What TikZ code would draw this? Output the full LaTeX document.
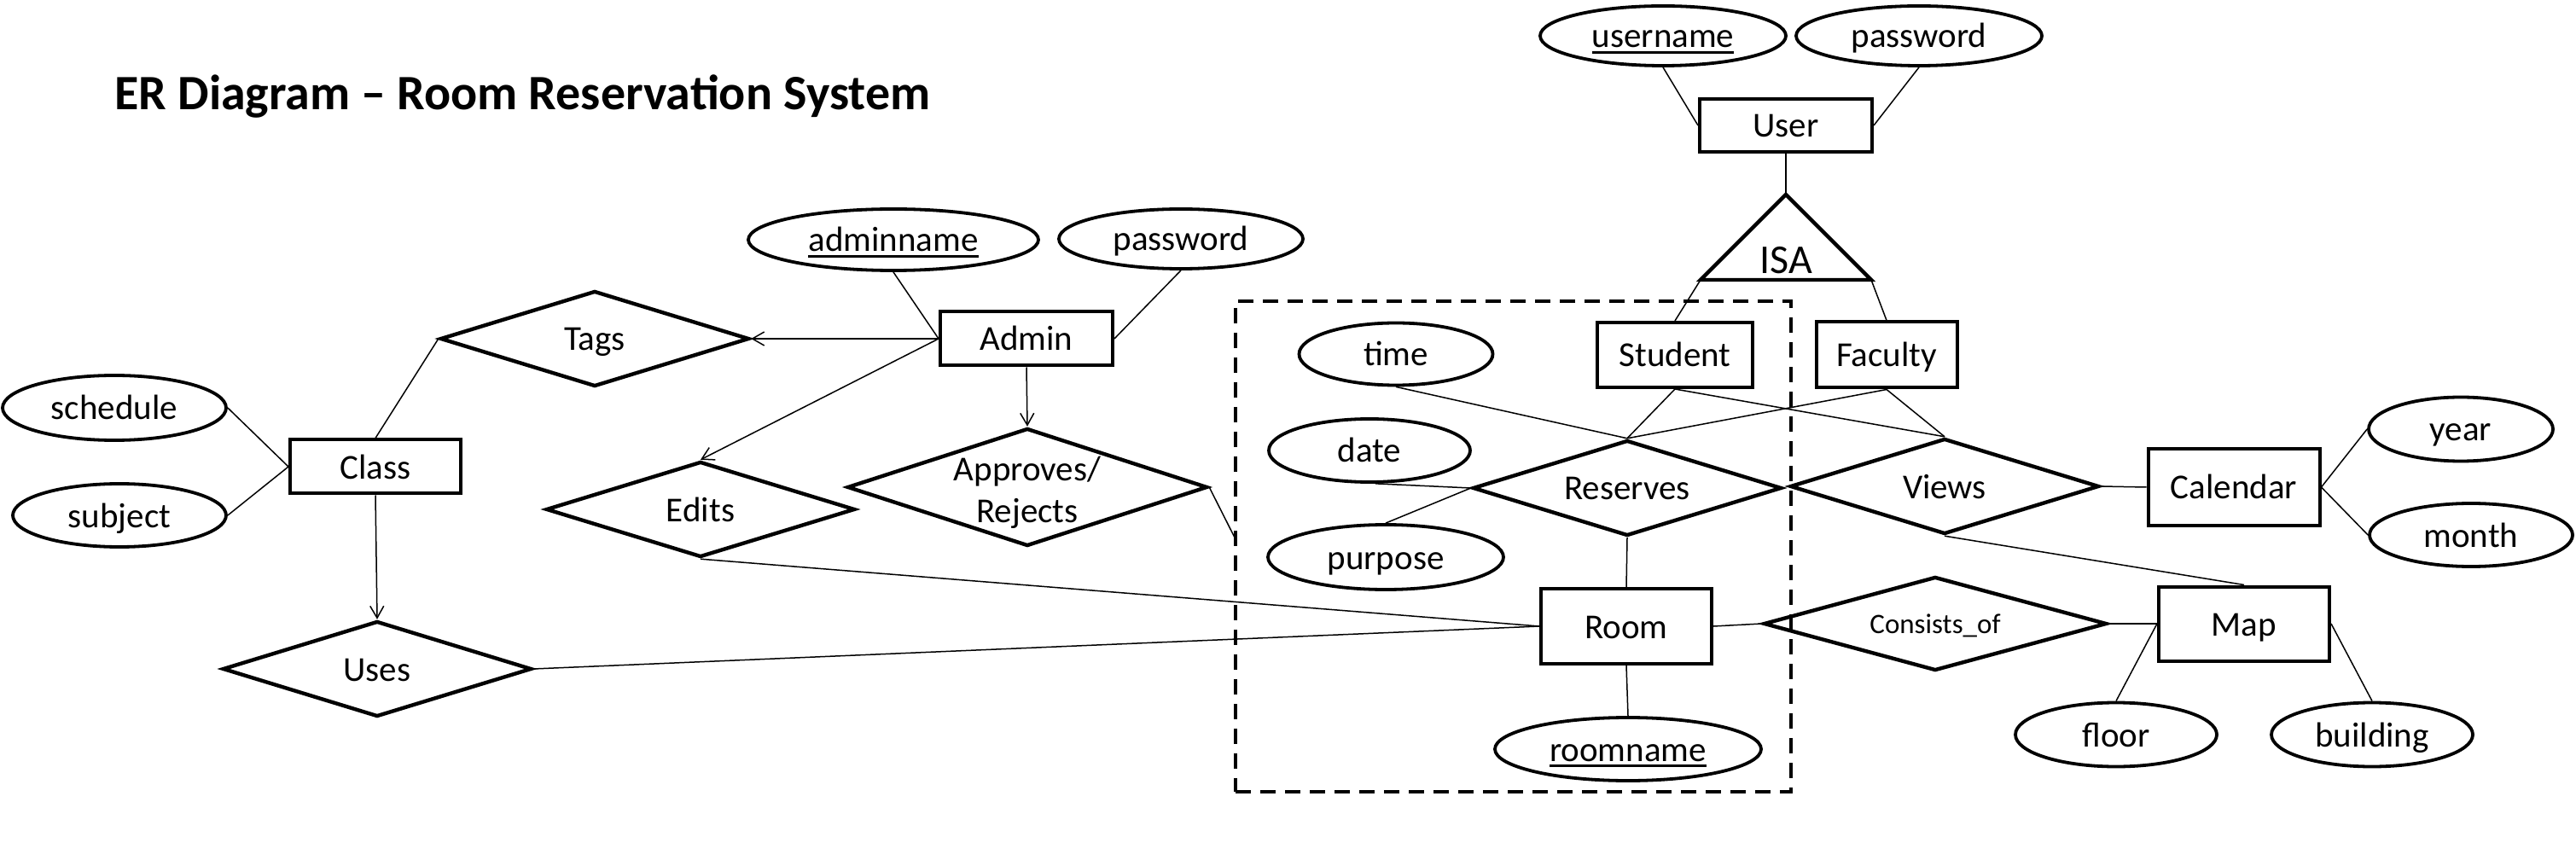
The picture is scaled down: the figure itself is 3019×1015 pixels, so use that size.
\documentclass[tikz,border=0pt]{standalone}
\usepackage{fontspec}
\setmainfont{Carlito}
\usetikzlibrary{shapes.geometric,arrows.meta}
\newsavebox\kbox
\newcommand\keyattr[1]{\sbox\kbox{#1}\rlap{\rule[-3.5pt]{\wd\kbox}{1.5pt}}\usebox\kbox}
\begin{document}
\begin{tikzpicture}[x=0.5pt,y=-0.5pt,
  lblfont/.style={font=\fontsize{20.5pt}{24.5pt}\selectfont},
  lbl/.style={lblfont, text height=14pt, text depth=0pt},
  ent/.style={draw, line width=2pt, rectangle, inner sep=0pt, lbl},
  att/.style={draw, line width=1.9pt, ellipse, inner sep=0pt, lbl},
  rel/.style={draw, line width=2.2pt, diamond, inner sep=0pt, minimum width=181pt, minimum height=56pt},
  con/.style={line width=0.75pt},
  arr/.style={con, -{Straight Barb[length=7pt,width=8pt]}},
  aggbox/.style={draw, line width=1.8pt, dash pattern=on 9pt off 5.5pt, inner sep=0pt}
]
\fill[white] (0,0) rectangle (3019,1015);
\useasboundingbox (0,0) rectangle (3019,1015);

\node[anchor=base west, inner sep=0pt, font=\fontsize{29pt}{34pt}\selectfont\bfseries] (title) at (134,129) {ER Diagram \textendash{} Room Reservation System};

% left part
\node[ent, minimum width=100pt, minimum height=31.5pt] (class) at (440,547) {Class};
\node[att, minimum width=131pt, minimum height=38pt] (schedule) at (134,478) {schedule};
\node[att, minimum width=125pt, minimum height=37pt] (subject) at (140,604) {subject};
\node[rel, label={[lbl]center:Tags}] (tags) at (697,397) {};
\node[rel, label={[lbl]center:Edits}] (edits) at (821,597) {};
\node[rel, label={[lbl]center:Uses}] (uses) at (442,784) {};

% admin
\node[ent, minimum width=101pt, minimum height=31.5pt] (admin) at (1203,397) {Admin};
\node[att, minimum width=170pt, minimum height=36pt] (adminname) at (1047,281) {\keyattr{adminname}};
\node[att, minimum width=143pt, minimum height=35pt] (apass) at (1384,280) {password};
\node[rel, minimum width=211pt, minimum height=69pt, label={[lblfont, align=center, yshift=-3pt]center:{Approves/\\Rejects}}] (approves) at (1204,571) {};

% aggregation box
\node[aggbox, minimum width=325.5pt, minimum height=287.5pt] (agg) at (1773.5,640.5) {};
\coordinate (aggpt) at (1448,632);

\node[att, minimum width=113.5pt, minimum height=36.5pt] (time) at (1636,415) {time};
\node[att, minimum width=118pt, minimum height=37pt] (date) at (1605,528) {date};
\node[att, minimum width=138pt, minimum height=38pt] (purpose) at (1624,653) {purpose};
\node[rel, label={[lbl]center:Reserves}] (reserves) at (1907,572) {};
\node[ent, minimum width=100pt, minimum height=44pt] (room) at (1906,734) {Room};
\node[att, minimum width=156pt, minimum height=37pt] (roomname) at (1908,878) {\keyattr{roomname}};
\node[ent, minimum width=91pt, minimum height=38pt] (student) at (1963,416) {Student};
\node[ent, minimum width=82.5pt, minimum height=38.5pt] (faculty) at (2211,416) {Faculty};

% user
\node[ent, minimum width=101pt, minimum height=31pt] (user) at (2093,147) {User};
\node[att, minimum width=144pt, minimum height=35pt] (username) at (1949,42) {\keyattr{username}};
\node[att, minimum width=144pt, minimum height=35pt] (upass) at (2249,42) {password};
\coordinate (isatop) at (2093,228);
\coordinate (isal) at (1993,328);
\coordinate (isar) at (2193,328);
\draw[line width=2.2pt] (isatop) -- (isal) -- (isar) -- cycle;
\node[anchor=base, inner sep=0pt, font=\fontsize{24pt}{28pt}\selectfont] (isa) at (2093,321) {ISA};

% right part
\node[rel, label={[lbl]center:Views}] (views) at (2279,570) {};
\node[ent, minimum width=100.5pt, minimum height=44.5pt] (calendar) at (2618,571) {Calendar};
\node[att, minimum width=108pt, minimum height=37.5pt] (year) at (2884,503) {year};
\node[att, minimum width=119pt, minimum height=37pt] (month) at (2896,627) {month};
\node[rel, minimum width=201pt, minimum height=55pt, label={[font=\fontsize{16.5pt}{20pt}\selectfont, text height=11.2pt, text depth=0pt]center:Consists\_of}] (consists) at (2268,731) {};
\node[ent, minimum width=100pt, minimum height=43.5pt] (map) at (2630,731) {Map};
\node[att, minimum width=118pt, minimum height=37.5pt] (floor) at (2480,861) {floor};
\node[att, minimum width=118pt, minimum height=37.5pt] (building) at (2780,861) {building};

% connectors
\draw[con] (schedule.east) -- (class.west);
\draw[con] (subject.east) -- (class.west);
\draw[con] (class.north) -- (tags.west);
\draw[arr] (class.south) -- (uses.north);
\draw[arr] (admin.west) -- (tags.east);
\draw[arr] (admin.west) -- (edits.north);
\draw[con] (adminname.south) -- (admin.west);
\draw[con] (apass.south) -- (admin.east);
\draw[arr] (admin.south) -- (approves.north);
\draw[con] (approves.east) -- (aggpt);
\draw[con] (edits.south) -- (room.west);
\draw[con] (uses.east) -- (room.west);
\draw[con] (time.south) -- (reserves.north);
\draw[con] (student.south) -- (reserves.north);
\draw[con] (faculty.south) -- (reserves.north);
\draw[con] (student.south) -- (views.north);
\draw[con] (faculty.south) -- (views.north);
\draw[con] (date.-80) -- (reserves.west);
\draw[con] (purpose.north) -- (reserves.west);
\draw[con] (reserves.south) -- (room.north);
\draw[con] (room.south) -- (roomname.north);
\draw[con] (room.east) -- (consists.west);
\draw[con] (consists.east) -- (map.west);
\draw[con] (views.east) -- (calendar.west);
\draw[con] (views.south) -- (map.north);
\draw[con] (calendar.east) -- (year.west);
\draw[con] (calendar.east) -- (month.west);
\draw[con] (map.west) -- (floor.north);
\draw[con] (map.east) -- (building.north);
\draw[con] (username.south) -- (user.west);
\draw[con] (upass.south) -- (user.east);
\draw[con] (user.south) -- (isatop);
\draw[con] (isal) -- (student.north);
\draw[con] (isar) -- (faculty.north);
\end{tikzpicture}
\end{document}
